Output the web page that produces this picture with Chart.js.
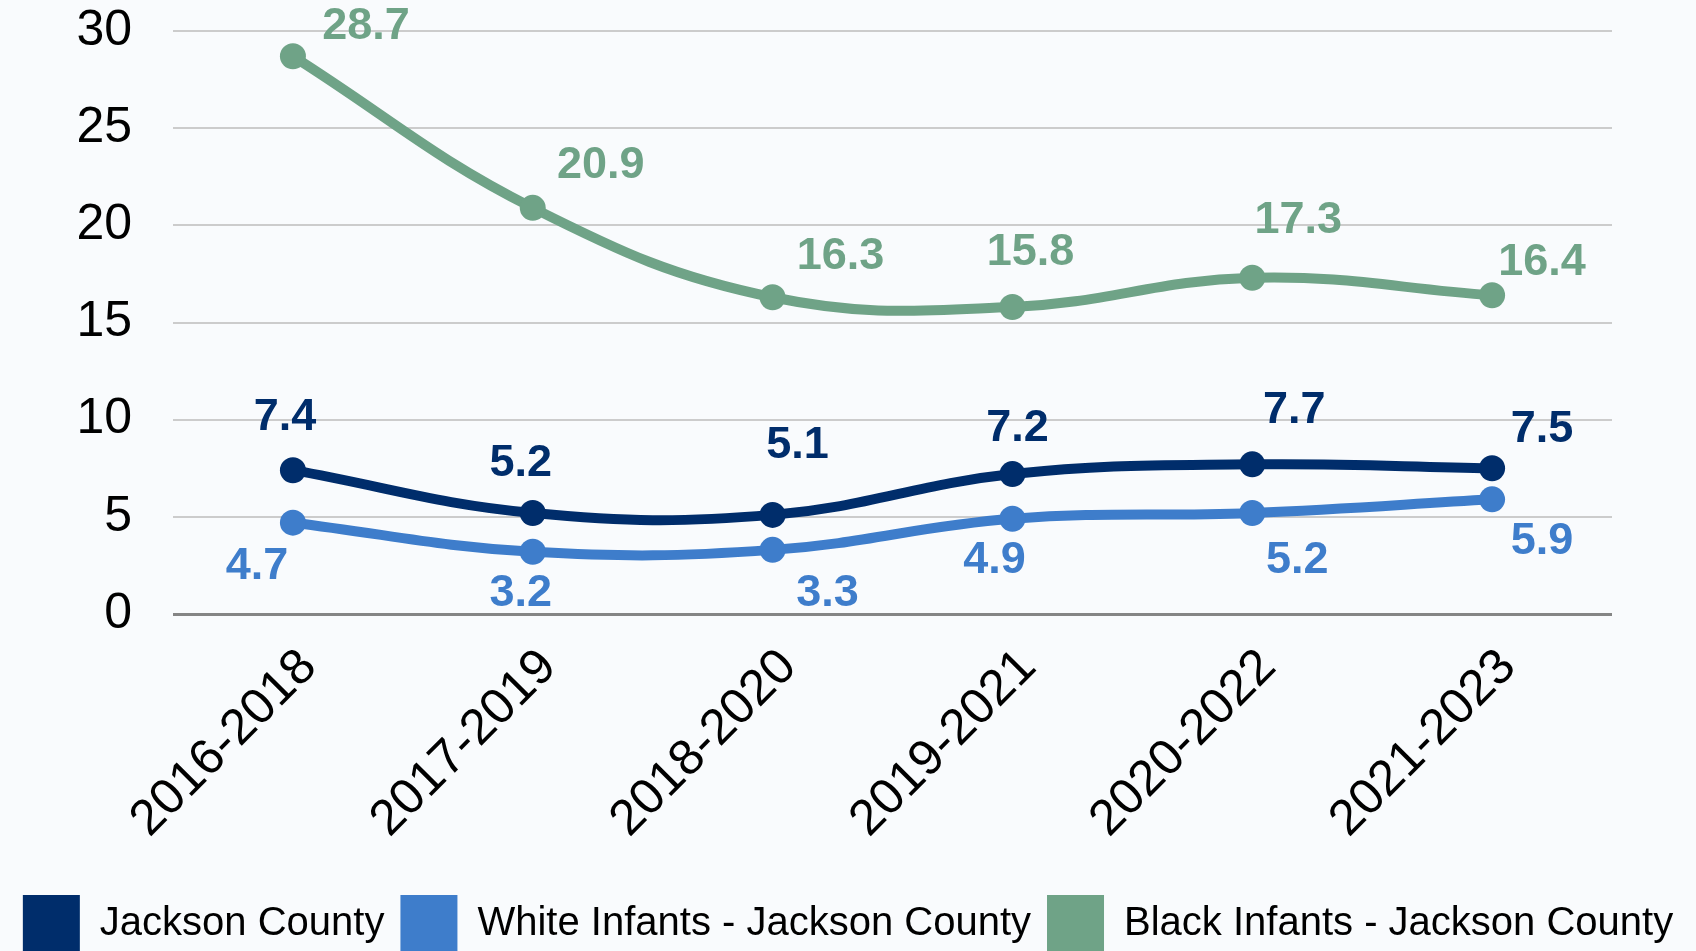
<!DOCTYPE html>
<html>
<head>
<meta charset="utf-8">
<script src="https://cdn.jsdelivr.net/npm/chart.js@4.4.1/dist/chart.umd.min.js"></script>
<style>
    html, body { margin: 0; padding: 0; background: #f9fbfd; overflow: hidden; }
    #wrap { width: 1696px; height: 962px; position: relative; }
</style>
</head>
<body>
<div id="wrap"><canvas id="graficoLinha"></canvas></div>
<script>
// periodos (eixo x)
var periodos = ['2016-2018', '2017-2019', '2018-2020', '2019-2021', '2020-2022', '2021-2023'];

// valores de cada serie
var jacksonCounty = [7.4, 5.2, 5.1, 7.2, 7.7, 7.5];
var whiteInfants = [4.7, 3.2, 3.3, 4.9, 5.2, 5.9];
var blackInfants = [28.7, 20.9, 16.3, 15.8, 17.3, 16.4];

var ticksY = [0, 5, 10, 15, 20, 25, 30];

var nomes = ['Jackson County', 'White Infants - Jackson County', 'Black Infants - Jackson County'];
var cores = ['#002d6b', '#3e7dcb', '#6fa387'];

// deslocamento dos rotulos de valor (px, relativo ao ponto)
var offsetsRotulos = [
    [[-8, -55], [-12, -51], [25, -71], [5, -47], [42, -56], [50, -41]],
    [[-36, 42], [-12, 40], [55, 42], [-18, 40], [45, 46], [50, 40]],
    [[73, -32], [68, -44], [68, -43], [18, -56], [46, -59], [50, -35]]
];

var fonte = "'Liberation Sans', Arial, sans-serif";

// desenha os valores ao lado de cada ponto
var rotulosPlugin = {
    id: 'rotulos',
    afterDatasetsDraw: function (chart) {
        var ctx = chart.ctx;
        ctx.save();
        ctx.font = 'bold 45px ' + fonte;
        ctx.textAlign = 'center';
        ctx.textBaseline = 'middle';
        chart.data.datasets.forEach(function (ds, d) {
            var meta = chart.getDatasetMeta(d);
            ctx.fillStyle = cores[d];
            meta.data.forEach(function (pt, i) {
                var off = offsetsRotulos[d][i];
                ctx.fillText(ds.data[i].toFixed(1), pt.x + off[0], pt.y + off[1] + 2);
            });
        });
        ctx.restore();
    }
};

function serie(i, dados) {
    return {
        label: nomes[i],
        data: dados,
        borderColor: cores[i],
        backgroundColor: cores[i],
        pointBackgroundColor: cores[i],
        pointBorderWidth: 0,
        pointRadius: 13,
        borderWidth: 10,
        tension: 0.4,
        fill: false
    };
}

var ctx = document.getElementById('graficoLinha');

var graficoLinha = new Chart(ctx, {
    type: 'line',
    data: {
        labels: periodos,
        datasets: [
            serie(0, jacksonCounty),
            serie(1, whiteInfants),
            serie(2, blackInfants)
        ]
    },
    options: {
        responsive: true,
        maintainAspectRatio: false,
        animation: false,
        layout: {
            padding: 0
        },
        plugins: {
            tooltip: { enabled: false },
            legend: {
                position: 'bottom',
                labels: {
                    boxWidth: 57,
                    boxHeight: 57,
                    padding: 16,
                    color: '#000',
                    font: { family: fonte, size: 40 },
                    generateLabels: function (chart) {
                        var itens = Chart.defaults.plugins.legend.labels.generateLabels(chart);
                        itens.forEach(function (it) {
                            it.lineWidth = 0;
                            it.strokeStyle = 'rgba(0,0,0,0)';
                        });
                        return itens;
                    }
                }
            }
        },
        scales: {
            x: {
                offset: true,
                grid: { display: false, drawTicks: false },
                border: { display: false },
                afterFit: function (scale) { scale.height = 265; },
                ticks: {
                    minRotation: 45,
                    maxRotation: 45,
                    padding: 24,
                    labelOffset: 16,
                    color: '#000',
                    font: { family: fonte, size: 50 }
                }
            },
            y: {
                min: 0,
                max: 30,
                afterBuildTicks: function (scale) {
                    scale.ticks = ticksY.map(function (v) { return { value: v }; });
                },
                afterFit: function (scale) {
                    scale.width = 173;
                    scale.paddingTop = 31;
                    scale.paddingBottom = 0;
                },
                grid: {
                    drawTicks: false,
                    color: function (c) { return c.tick.value === 0 ? '#858585' : '#cccccc'; },
                    lineWidth: function (c) { return c.tick.value === 0 ? 3 : 2; }
                },
                border: { display: false },
                ticks: {
                    padding: 41,
                    color: '#000',
                    font: { family: fonte, size: 50 }
                }
            },
            // eixo vazio so para reservar a margem da direita
            margemDireita: {
                type: 'linear',
                position: 'right',
                grid: { display: false, drawTicks: false },
                border: { display: false },
                ticks: { display: false },
                afterFit: function (scale) {
                    scale.width = 84;
                    scale.paddingTop = 0;
                    scale.paddingBottom = 0;
                }
            }
        }
    },
    plugins: [rotulosPlugin]
});
</script>
</body>
</html>
